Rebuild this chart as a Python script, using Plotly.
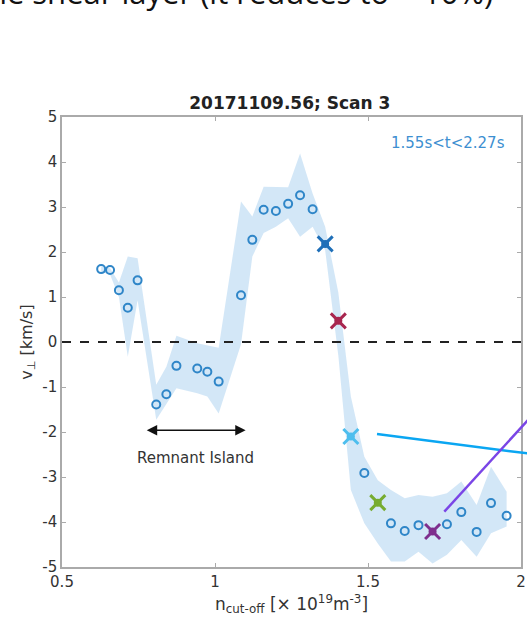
import plotly.graph_objects as go

# Cut-off density (x 10^19 m^-3) and perpendicular velocity (km/s)
n_cut = [0.628, 0.657, 0.686, 0.715, 0.747, 0.808, 0.841, 0.874, 0.942, 0.975,
         1.012, 1.085, 1.122, 1.159, 1.199, 1.239, 1.278, 1.319, 1.360, 1.403,
         1.444, 1.488, 1.532, 1.575, 1.620, 1.665, 1.711, 1.758, 1.805, 1.855,
         1.902, 1.953]
v_perp = [1.62, 1.60, 1.15, 0.76, 1.37, -1.39, -1.16, -0.53, -0.59, -0.66,
          -0.88, 1.04, 2.27, 2.94, 2.91, 3.07, 3.26, 2.95, 2.18, 0.47,
          -2.10, -2.91, -3.57, -4.03, -4.20, -4.07, -4.21, -4.05, -3.78, -4.22,
          -3.58, -3.86]
v_upper = [1.68, 1.64, 1.32, 1.90, 1.86, -0.95, -0.55, 0.14, -0.03, -0.08,
           -0.13, 3.12, 2.79, 3.45, 3.44, 3.44, 4.19, 3.30, 2.56, 1.10,
           -1.21, -2.55, -3.07, -3.29, -3.47, -3.40, -3.44, -3.36, -3.10, -3.62,
           -2.77, -3.33]
v_lower = [1.56, 1.50, 1.00, -0.33, 0.93, -1.73, -1.38, -1.03, -1.14, -1.21,
           -1.59, -0.05, 1.90, 2.42, 2.56, 2.75, 2.34, 2.56, 2.04, -0.30,
           -3.29, -4.03, -4.48, -4.88, -4.88, -4.66, -4.92, -4.73, -4.40, -4.77,
           -4.25, -4.10]

# Highlighted positions (index into the arrays above) and their colours
hl_index = [18, 19, 20, 22, 26]
hl_color = ["#1f6fb8", "#a8264f", "#4dbeee", "#77ac30", "#7e2f8e"]

x_ticks = [0.5, 1, 1.5, 2]
x_labels = ["0.5", "1", "1.5", "2"]
y_ticks = [5, 4, 3, 2, 1, 0, -1, -2, -3, -4, -5]
y_labels = ["5", "4", "3", "2", "1", "0", "-1", "-2", "-3", "-4", "-5"]

slide_text = "the shear layer (it reduces to ~ 10%)"

W, H = 527, 630
FONT = "DejaVu Sans"
BAND = "rgba(200,225,245,0.8)"
DOT = "#2f86c8"
AXIS = dict(showgrid=False, zeroline=False, showline=True, linecolor="#aaaaaa",
            linewidth=1.5, mirror="ticks", ticks="inside", ticklen=4,
            tickcolor="#aaaaaa", automargin=False,
            tickfont=dict(family=FONT, size=15, color="#333333"))

fig = go.Figure()

# uncertainty band
fig.add_trace(go.Scatter(x=n_cut + n_cut[::-1], y=v_upper + v_lower[::-1],
                         mode="lines", fill="toself", fillcolor=BAND,
                         line=dict(width=0), hoverinfo="skip", showlegend=False))

# zero line
fig.add_shape(type="line", xref="x domain", yref="y", x0=0, x1=1, y0=0, y1=0,
              line=dict(color="#222222", width=2, dash="dash"))

# open circle measurements
plain = [i for i in range(len(n_cut)) if i not in hl_index]
fig.add_trace(go.Scatter(x=[n_cut[i] for i in plain], y=[v_perp[i] for i in plain],
                         mode="markers", showlegend=False,
                         marker=dict(symbol="circle-open", size=8, color=DOT,
                                     line=dict(width=2, color=DOT))))

# highlighted points: circle with a cross
for i, c in zip(hl_index, hl_color):
    fig.add_trace(go.Scatter(x=[n_cut[i]], y=[v_perp[i]], mode="markers",
                             showlegend=False,
                             marker=dict(symbol="circle", size=8, color=c,
                                         line=dict(width=0))))
    fig.add_trace(go.Scatter(x=[n_cut[i]], y=[v_perp[i]], mode="markers",
                             showlegend=False,
                             marker=dict(symbol="x-thin-open", size=15, color=c,
                                         line=dict(width=3, color=c))))

# Remnant Island arrow
fig.add_annotation(x=0.777, y=-1.96, ax=1.105, ay=-1.96, xref="x", yref="y",
                   axref="x", ayref="y", text="", showarrow=True,
                   arrowhead=2, arrowside="end+start", arrowsize=1.3,
                   arrowwidth=1.6, arrowcolor="#111111")
fig.add_annotation(x=0.937, y=-2.58, xref="x", yref="y", text="Remnant Island",
                   showarrow=False, font=dict(family=FONT, size=15, color="#333333"))

# time window label
fig.add_annotation(x=1.955, y=4.42, xref="x", yref="y",
                   xanchor="right", yanchor="middle", text="1.55s<t<2.27s",
                   showarrow=False, font=dict(family=FONT, size=15, color="#3d8fd1"))

# pointer lines leading off to the right (page coordinates)
fig.add_shape(type="line", xref="paper", yref="paper",
              x0=377 / W, y0=1 - 434 / H, x1=1.02, y1=1 - 454.7 / H,
              line=dict(color="#0aa6f2", width=2.5))
fig.add_shape(type="line", xref="paper", yref="paper",
              x0=444.3 / W, y0=1 - 511.7 / H, x1=1.02, y1=1 - 409.6 / H,
              line=dict(color="#7a45e6", width=2.5))

# slide text running along the top edge of the page (pixel-space helper axes)
fig.add_trace(go.Scatter(x=[235], y=[12], xaxis="x2", yaxis="y2", mode="text",
                         text=[slide_text], textposition="top center",
                         cliponaxis=False, hoverinfo="skip", showlegend=False,
                         textfont=dict(family="Open Sans", size=31, color="#111111")))

fig.update_layout(
    width=W, height=H,
    margin=dict(l=0, r=0, t=0, b=0, pad=0, autoexpand=False),
    paper_bgcolor="white", plot_bgcolor="rgba(0,0,0,0)",
    title=dict(text="<b>20171109.56; Scan 3</b>", x=0.55, xanchor="center",
               y=1 - 103 / H, yanchor="middle", automargin=False,
               font=dict(family=FONT, size=17, color="#222222")),
    showlegend=False,
    xaxis=dict(domain=[62 / W, 521 / W], range=[0.5, 2],
               tickvals=x_ticks, ticktext=x_labels,
               title=dict(text="n<sub>cut-off</sub> [× 10<sup>19</sup>m<sup>-3</sup>]",
                          font=dict(family=FONT, size=17, color="#333333"),
                          standoff=8),
               **AXIS),
    yaxis=dict(domain=[1 - 567 / H, 1 - 117 / H], range=[-5, 5],
               tickvals=y_ticks, ticktext=y_labels,
               title=dict(text="v<sub>⊥</sub> [km/s]",
                          font=dict(family=FONT, size=16, color="#333333"),
                          standoff=6),
               **AXIS),
    xaxis2=dict(domain=[0, 1], range=[0, W], anchor="y2", visible=False,
                automargin=False),
    yaxis2=dict(domain=[0, 1], range=[H, 0], anchor="x2", visible=False,
                automargin=False),
)

fig.write_html("out.html")
